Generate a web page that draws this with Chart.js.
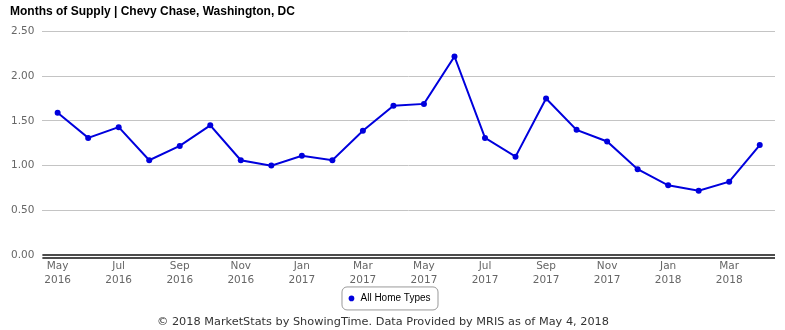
<!DOCTYPE html>
<html>
<head>
<meta charset="utf-8">
<script src="https://cdn.jsdelivr.net/npm/chart.js@4/dist/chart.umd.min.js"></script>
<style>
  html, body { margin: 0; padding: 0; background: #fff; }
  #wrap { width: 785px; height: 330px; }
</style>
</head>
<body>
<div id="wrap"><canvas id="supplyChart"></canvas></div>
<script>
const months = ["May", "Jun", "Jul", "Aug", "Sep", "Oct", "Nov", "Dec",
  "Jan", "Feb", "Mar", "Apr", "May", "Jun", "Jul", "Aug", "Sep", "Oct", "Nov", "Dec",
  "Jan", "Feb", "Mar", "Apr"];
const years = ["2016", "2016", "2016", "2016", "2016", "2016", "2016", "2016",
  "2017", "2017", "2017", "2017", "2017", "2017", "2017", "2017", "2017", "2017", "2017", "2017",
  "2018", "2018", "2018", "2018"];
const allHomeTypes = [1.59, 1.31, 1.43, 1.06, 1.22, 1.45, 1.06, 1.00,
  1.11, 1.06, 1.39, 1.67, 1.69, 2.22, 1.31, 1.10, 1.75, 1.40, 1.27, 0.96,
  0.78, 0.72, 0.82, 1.23];
const yTicks = [0, 0.5, 1, 1.5, 2, 2.5];

const footerText = '\u00a9 2018 MarketStats by ShowingTime. Data Provided by MRIS as of May 4, 2018';
const labels = months.map((m, i) => [m, years[i]]);

// double black rule on the zero line + rounded box round the legend
const extras = {
  id: 'extras',
  afterLayout(chart) {
    // title sits a little right of the y labels
    chart.titleBlock.left += 7;
    // footer is centred slightly left of the plot
    chart.boxes.forEach(b => {
      if (b.options && b.options.text === footerText) {
        b.left -= 6;
        b.right -= 6;
      }
    });
  },
  afterDraw(chart) {
    const ctx = chart.ctx;
    const area = chart.chartArea;
    const y0 = chart.scales.y.getPixelForValue(0);
    ctx.save();
    ctx.strokeStyle = '#111';
    ctx.lineWidth = 1.5;
    [y0, y0 + 3].forEach(y => {
      ctx.beginPath();
      ctx.moveTo(area.left, y);
      ctx.lineTo(area.right, y);
      ctx.stroke();
    });
    const hb = chart.legend.legendHitBoxes[0];
    if (hb) {
      ctx.strokeStyle = '#999';
      ctx.lineWidth = 1;
      ctx.beginPath();
      ctx.roundRect(hb.left - 5.5, hb.top - 6.5, hb.width + 13, hb.height + 13, 5);
      ctx.stroke();
    }
    ctx.restore();
  }
};

new Chart(document.getElementById('supplyChart'), {
  type: 'line',
  data: {
    labels: labels,
    datasets: [{
      label: 'All Home Types',
      data: allHomeTypes,
      borderColor: '#0000dd',
      backgroundColor: '#0000dd',
      pointBackgroundColor: '#0000dd',
      pointBorderColor: '#0000dd',
      borderWidth: 2,
      pointRadius: 3,
      pointBorderWidth: 0,
      tension: 0
    }]
  },
  options: {
    responsive: true,
    maintainAspectRatio: false,
    animation: false,
    layout: { padding: { left: 3, right: 10, top: 0, bottom: 0 } },
    scales: {
      x: {
        offset: true,
        grid: { display: false, drawTicks: false },
        border: { display: false },
        ticks: {
          autoSkip: false,
          maxRotation: 0,
          padding: 4,
          color: '#666',
          font: { family: 'DejaVu Sans', size: 10.5, lineHeight: 1.35 },
          callback: (v, i) => (i % 2 === 0 ? labels[i] : '')
        }
      },
      y: {
        min: 0,
        max: 2.5,
        afterBuildTicks: (axis) => { axis.ticks = yTicks.map(v => ({ value: v })); },
        grid: {
          drawTicks: false,
          color: (c) => (c.tick && c.tick.value === 0 ? 'rgba(0,0,0,0)' : '#c4c4c4')
        },
        border: { display: false },
        ticks: {
          padding: 8,
          color: '#666',
          font: { family: 'DejaVu Sans', size: 10.5 },
          callback: (v) => Number(v).toFixed(2)
        }
      }
    },
    plugins: {
      title: {
        display: true,
        text: 'Months of Supply | Chevy Chase, Washington, DC',
        align: 'start',
        color: '#000',
        font: { family: 'Liberation Sans', size: 12, weight: 'bold' },
        padding: { top: 4, bottom: 13 }
      },
      legend: {
        display: true,
        position: 'bottom',
        labels: {
          usePointStyle: true,
          pointStyle: 'circle',
          boxWidth: 8,
          boxHeight: 4,
          padding: 2,
          color: '#000',
          font: { family: 'Liberation Sans', size: 10 }
        }
      },
      subtitle: {
        display: true,
        position: 'bottom',
        text: footerText,
        color: '#333',
        font: { family: 'DejaVu Sans', size: 11.3 },
        padding: { top: 2, bottom: 1 }
      },
      tooltip: { enabled: false }
    }
  },
  plugins: [extras]
});
</script>
</body>
</html>
